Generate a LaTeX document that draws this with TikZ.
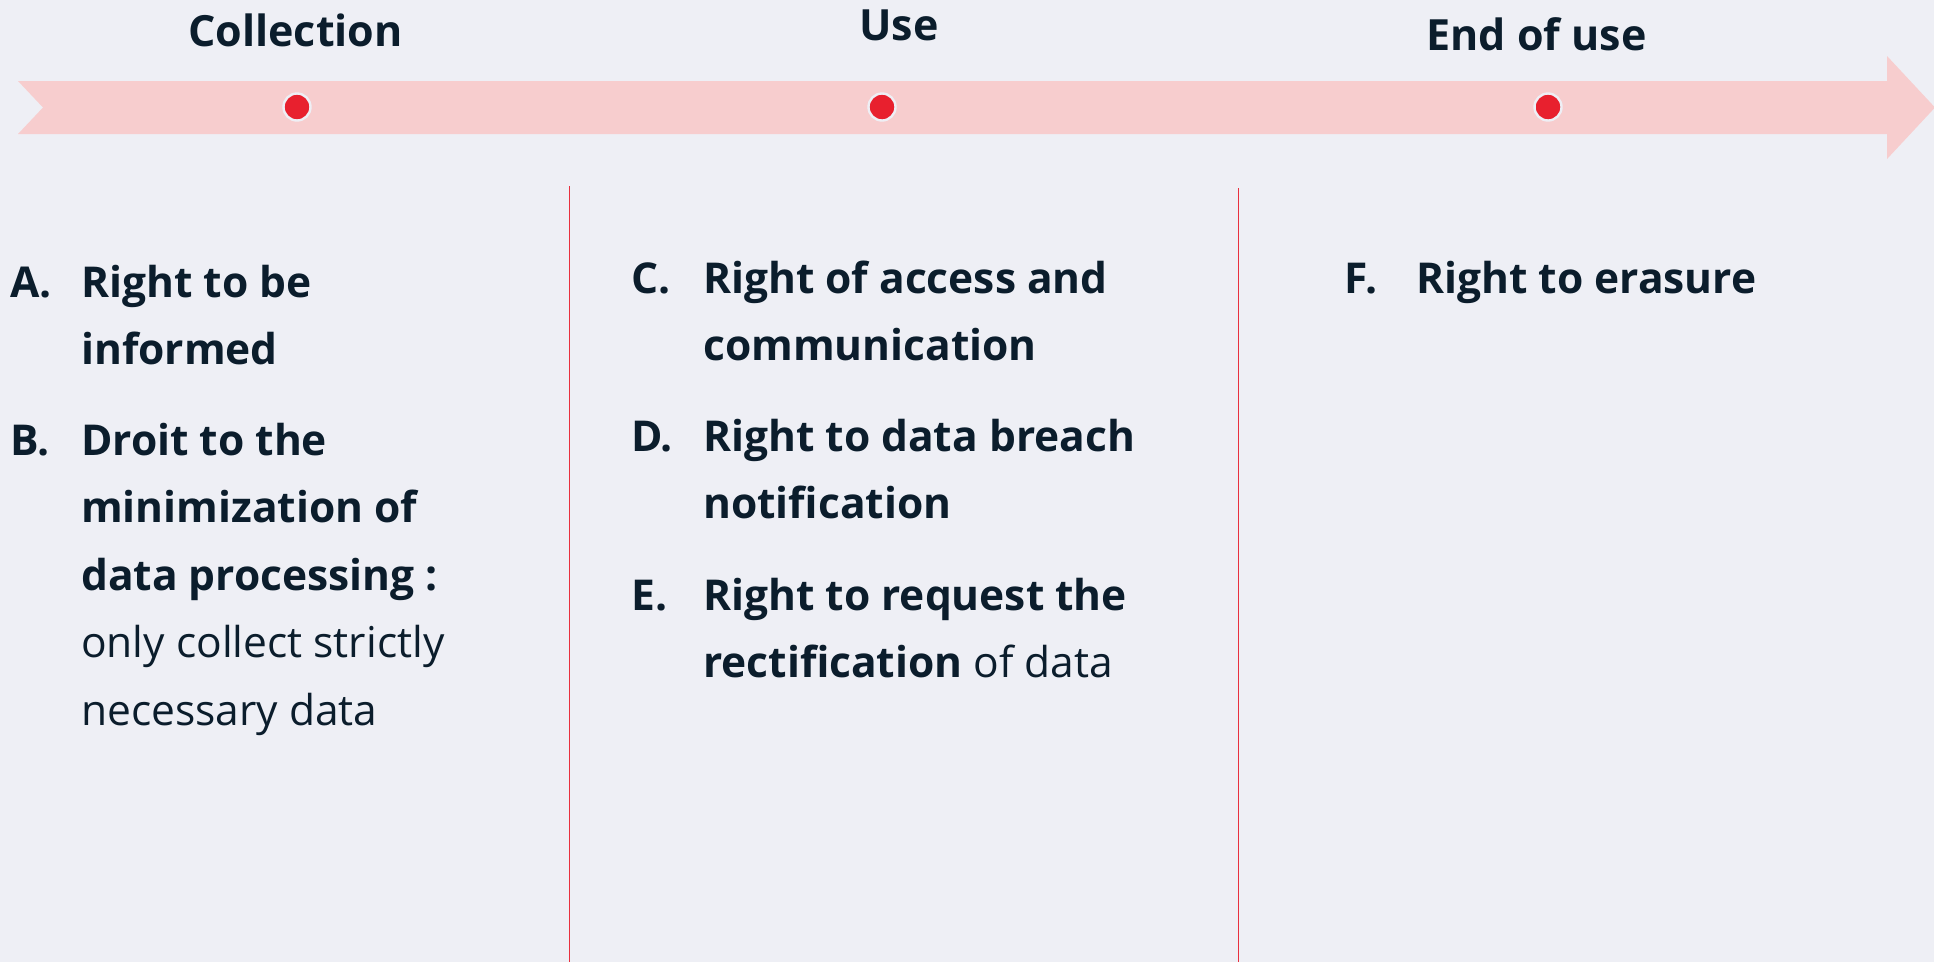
\documentclass[tikz,border=0pt]{standalone}
\usepackage{fontspec}
\setmainfont{Open Sans}
\definecolor{bgc}{HTML}{EEEFF5}
\definecolor{band}{HTML}{F7CDCE}
\definecolor{dotred}{HTML}{E8202E}
\definecolor{ink}{HTML}{0B1D2C}
\definecolor{sepred}{HTML}{E8303E}
\tikzset{
  phase/.style={inner sep=0pt, anchor=base, text=ink, font=\fontsize{43}{50}\selectfont\bfseries},
  marker/.style={circle, fill=dotred, draw=bgc, line width=2.4pt, minimum size=27pt, inner sep=0pt},
  letter/.style={inner sep=0pt, anchor=base west, text=ink, font=\fontsize{42.5}{67.5}\selectfont\bfseries},
  item/.style={inner sep=0pt, anchor=base west, text=ink, font=\fontsize{42.5}{67.5}\selectfont},
  divider/.style={draw=sepred, line width=1.6pt}
}
\newcommand{\itemtext}[1]{\parbox[t]{900pt}{\raggedright #1}}
\begin{document}
\begin{tikzpicture}[x=1pt, y=-1pt]
  \useasboundingbox (0,0) rectangle (1934,962);
  \fill[bgc] (0,0) rectangle (1934,962);

  % timeline band with notched tail and arrow head
  \fill[band] (18,81) -- (1887,81) -- (1887,56) -- (1935,107.5) -- (1887,159)
    -- (1887,134) -- (18,134) -- (43,107.5) -- cycle;

  % phase markers on the band
  \node[marker] (m1) at (297,107) {};
  \node[marker] (m2) at (882,107) {};
  \node[marker] (m3) at (1548,107) {};

  % phase titles
  \node[phase] (h1) at (295.5,46.5) {Collection};
  \node[phase] (h2) at (899,40) {Use};
  \node[phase] (h3) at (1536.5,50) {End of use};

  % column dividers
  \coordinate (d1t) at (569.5,186);
  \coordinate (d1b) at (569.5,962);
  \coordinate (d2t) at (1238.5,188);
  \coordinate (d2b) at (1238.5,962);
  \draw[divider] (d1t) -- (d1b);
  \draw[divider] (d2t) -- (d2b);

  % collection rights
  \node[letter] (la) at (10,297) {A.};
  \node[item] (ta) at (81,297) {\itemtext{\bfseries Right to be\\informed}};
  \node[letter] (lb) at (10,455) {B.};
  \node[item] (tb) at (81,455) {\itemtext{\bfseries Droit to the\\minimization of\\data processing :\\\mdseries only collect strictly\\necessary data}};

  % use rights
  \node[letter] (lc) at (631,293) {C.};
  \node[item] (tc) at (703,293) {\itemtext{\bfseries Right of access and\\communication}};
  \node[letter] (ld) at (631,451) {D.};
  \node[item] (td) at (703,451) {\itemtext{\bfseries Right to data breach\\notification}};
  \node[letter] (le) at (631,610) {E.};
  \node[item] (te) at (703,610) {\itemtext{\bfseries Right to request the\\rectification\mdseries{} of data}};

  % end-of-use rights
  \node[letter] (lf) at (1344,293) {F.};
  \node[item] (tf) at (1416,293) {\itemtext{\bfseries Right to erasure}};
\end{tikzpicture}
\end{document}
